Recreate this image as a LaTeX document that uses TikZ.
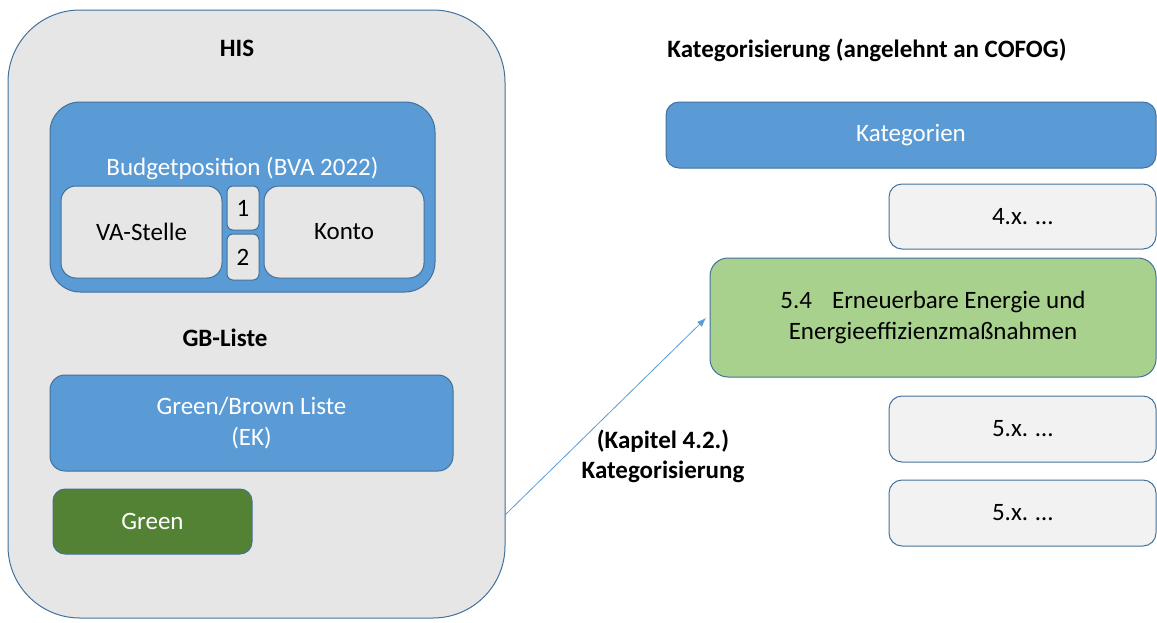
\documentclass[tikz,border=0pt]{standalone}
\usepackage{fontspec}
\setmainfont{Carlito}
\usetikzlibrary{arrows.meta}
\definecolor{bfill}{HTML}{5B9BD5}
\definecolor{bline}{HTML}{41719C}
\definecolor{gfill}{HTML}{E7E6E6}
\definecolor{pfill}{HTML}{F2F2F2}
\definecolor{lgfill}{HTML}{A9D18E}
\definecolor{dgfill}{HTML}{548235}
\begin{document}
\begin{tikzpicture}[x=1pt,y=-1pt,
  font=\fontsize{25}{31}\selectfont,
  box/.style={draw=bline, line width=1pt, inner sep=0pt, align=center},
  bluebox/.style={box, fill=bfill, text=white},
  greybox/.style={box, fill=gfill, text=black},
  palebox/.style={box, fill=pfill, text=black},
  head/.style={font=\fontsize{25}{30}\selectfont\bfseries, align=center},
  link/.style={draw=bfill, line width=0.8pt, -{Latex[length=9pt,width=7pt]}}
]
\path[use as bounding box] (0,0) rectangle (1157,622);
\clip (0,0) rectangle (1157,622);

% left block: HIS
\node[greybox, rounded corners=72pt, minimum width=497pt, minimum height=608pt] (his) at (256.5,314) {};
\node[head] (histitle) at (237,48) {HIS};

\node[bluebox, rounded corners=30pt, minimum width=385pt, minimum height=190pt] (budget) at (242.5,197) {};
\node[text=white] (budgettxt) at (242.5,168) {Budgetposition (BVA 2022)};
\node[greybox, rounded corners=15pt, minimum width=161pt, minimum height=92pt] (va) at (141.5,232) {VA-Stelle};
\node[greybox, rounded corners=6pt, minimum width=32pt, minimum height=44pt] (one) at (243,208) {1};
\node[greybox, rounded corners=6pt, minimum width=32pt, minimum height=46pt] (two) at (243,257) {2};
\node[greybox, rounded corners=15pt, minimum width=160pt, minimum height=92pt] (konto) at (344,232) {Konto};

\node[head] (gbtitle) at (225,338) {GB-Liste};
\node[bluebox, rounded corners=15pt, minimum width=403pt, minimum height=96pt] (gb) at (251.5,423) {Green/Brown Liste\\(EK)};
\node[box, fill=dgfill, text=white, rounded corners=12pt, minimum width=199pt, minimum height=65pt] (green) at (152.5,521.5) {Green};

% right block: categories
\node[head] (cattitle) at (867,50) {Kategorisierung (angelehnt an COFOG)};
\node[bluebox, rounded corners=13pt, minimum width=490pt, minimum height=66pt] (kat) at (911,135) {Kategorien};
\node[palebox, rounded corners=13pt, minimum width=267pt, minimum height=65pt] (k4) at (1022.5,216.5) {4.x. …};
\node[box, fill=lgfill, text=black, rounded corners=18pt, minimum width=446pt, minimum height=119pt] (k54) at (933,317.5) {5.4\hspace{0.8em}Erneuerbare Energie und\\Energieeffizienzmaßnahmen};
\node[palebox, rounded corners=13pt, minimum width=267pt, minimum height=66pt] (k5a) at (1022.5,429) {5.x. …};
\node[palebox, rounded corners=13pt, minimum width=267pt, minimum height=66pt] (k5b) at (1022.5,513) {5.x. …};

% categorisation link
\coordinate (linkstart) at (505,515);
\coordinate (linkend) at (706,318);
\draw[link] (linkstart) -- (linkend);
\node[head] (linklabel) at (663,456) {(Kapitel 4.2.)\\Kategorisierung};
\end{tikzpicture}
\end{document}
